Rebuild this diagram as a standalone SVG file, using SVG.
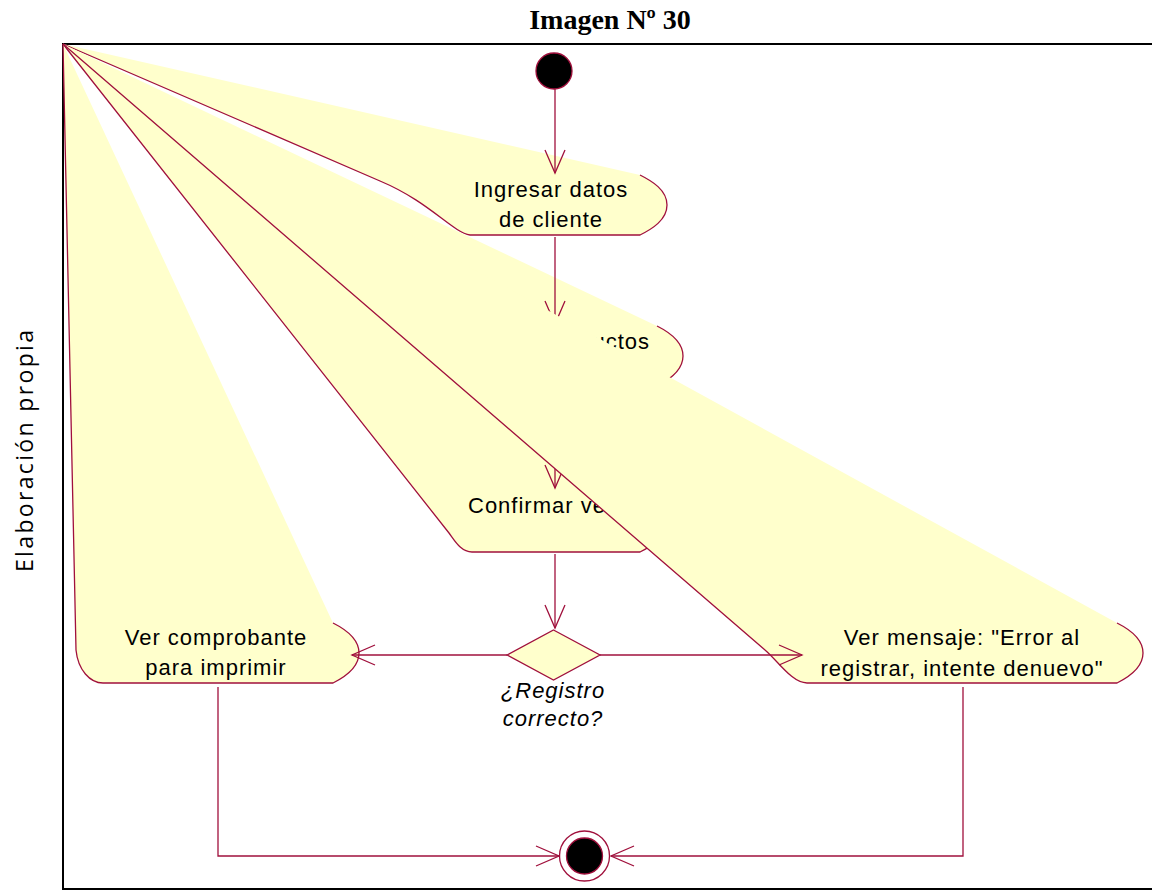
<svg xmlns="http://www.w3.org/2000/svg" width="1152" height="891" viewBox="0 0 1152 891">
  <style>
    .fill { fill: #FFFFCC; stroke: none; }
    .edge { fill: none; stroke: #A0103C; stroke-width: 1.3; }
    .lbl { font-family: "Liberation Sans", Arial, sans-serif; font-size: 22px; letter-spacing: 1px; fill: #000; }
    .mid { text-anchor: middle; }
    .guard { font-style: italic; }
    .wire { fill: none; stroke: #A0103C; stroke-width: 1.3; }
    .frame { fill: none; stroke: #000; stroke-width: 2; }
  </style>
  <defs>
    <!-- everything except the area covered by the error-message state -->
    <clipPath id="outside-error" clipPathUnits="userSpaceOnUse">
      <path clip-rule="evenodd" d="M0,0H1152V891H0Z M63,44 L1117,623 C1129,629 1143,638 1143,653 C1143,668 1129,677 1117,683 L807,683 C792,683 778,661 765,650 Z"/>
    </clipPath>
  </defs>

  <!-- page frame, title and side caption -->
  <g id="frame">
    <rect class="frame" x="63" y="44" width="1100" height="845"/>
    <text x="610" y="29" text-anchor="middle" font-family="'Liberation Serif', 'Times New Roman', serif" font-weight="bold" font-size="28">Imagen Nº 30</text>
    <text transform="translate(33,451) rotate(-90)" text-anchor="middle" font-family="'Open Sans', 'Liberation Sans', sans-serif" font-size="23" textLength="242" lengthAdjust="spacing">Elaboración propia</text>
  </g>

  <!-- activity states -->
  <g id="node-ingresar">
    <path class="fill" d="M63,44 L640,175 C652,181 667,190 667,205 C667,220 652,229 640,235 L470,235 C452,232 430,202 380,181 Z"/>
    <path class="edge" d="M640,175 C652,181 667,190 667,205 C667,220 652,229 640,235 L470,235 C452,232 430,202 380,181 L63,44"/>
    <text class="lbl mid" x="551" y="197">Ingresar datos</text>
    <text class="lbl mid" x="551" y="227">de cliente</text>
  </g>

  <g id="node-productos">
    <path class="fill" d="M63,44 L657,326 C669,332 683,341 683,356 C683,371 669,380 657,386 L453,386 C438,384 428,362 410,345 Z"/>
    <path class="edge" d="M657,326 C669,332 683,341 683,356 C683,371 669,380 657,386 L453,386 C438,384 428,362 410,345 L63,44"/>
    <text class="lbl" x="650" y="349" text-anchor="end">uctos</text>
  </g>

  <g id="node-confirmar">
    <path class="fill" d="M63,44 L640,490 C652,496 667,505 667,521 C667,537 652,546 640,552 L472,552 C461,552 455,541 449,533 Z"/>
    <path class="edge" d="M640,490 C652,496 667,505 667,521 C667,537 652,546 640,552 L472,552 C461,552 455,541 449,533 L63,44"/>
    <text class="lbl" x="468" y="513">Confirmar ve</text>
  </g>

  <g id="node-comprobante">
    <path class="fill" d="M63,44 L333,623 C345,629 359,638 359,653 C359,668 345,677 333,683 L103,683 C90,683 78,670 76,650 Z"/>
    <path class="edge" d="M333,623 C345,629 359,638 359,653 C359,668 345,677 333,683 L103,683 C90,683 78,670 76,650 L63,44"/>
    <text class="lbl mid" x="216" y="645">Ver comprobante</text>
    <text class="lbl mid" x="216" y="675">para imprimir</text>
  </g>

  <g id="node-error">
    <path class="fill" d="M63,44 L1117,623 C1129,629 1143,638 1143,653 C1143,668 1129,677 1117,683 L807,683 C792,683 778,661 765,650 Z"/>
    <path class="edge" d="M1117,623 C1129,629 1143,638 1143,653 C1143,668 1129,677 1117,683 L807,683 C792,683 778,661 765,650 L63,44"/>
    <text class="lbl mid" x="962" y="645">Ver mensaje: "Error al</text>
    <text class="lbl mid" x="962" y="676">registrar, intente denuevo"</text>
  </g>

  <!-- decision -->
  <g id="node-decision">
    <polygon class="fill" points="553.5,630 600,655 553.5,680 507,655"/>
    <polygon class="edge" points="553.5,630 600,655 553.5,680 507,655"/>
    <text class="lbl mid guard" x="553" y="698">¿Registro</text>
    <text class="lbl mid guard" x="553" y="726">correcto?</text>
  </g>

  <!-- initial and final states -->
  <g id="node-start">
    <circle cx="554" cy="71" r="18" fill="#000" stroke="#A0103C" stroke-width="1.3"/>
  </g>
  <g id="node-end">
    <circle cx="584.5" cy="856" r="25" fill="#fff" stroke="#A0103C" stroke-width="1.3"/>
    <circle cx="584.5" cy="856" r="18" fill="#000" stroke="#A0103C" stroke-width="1.3"/>
  </g>

  <!-- transitions -->
  <g id="connectors">
    <g id="t-start-ingresar">
      <path class="wire" d="M555,89 V173"/>
      <polyline class="wire" points="545,150 555,173 565,150"/>
    </g>
    <g id="t-ingresar-productos" clip-path="url(#outside-error)">
      <path class="wire" d="M555,237 V324"/>
      <polyline class="wire" points="545,301 555,324 565,301"/>
    </g>
    <g id="t-productos-confirmar" clip-path="url(#outside-error)">
      <path class="wire" d="M555,388 V488"/>
      <polyline class="wire" points="545,465 555,488 565,465"/>
    </g>
    <g id="t-confirmar-decision">
      <path class="wire" d="M555,554 V628"/>
      <polyline class="wire" points="545,605 555,628 565,605"/>
    </g>
    <g id="t-decision-comprobante">
      <path class="wire" d="M507,655 H352"/>
      <polyline class="wire" points="375,645 352,655 375,665"/>
    </g>
    <g id="t-decision-error">
      <path class="wire" d="M600,655 H802"/>
      <polyline class="wire" points="779,645 802,655 779,665"/>
    </g>
    <g id="t-comprobante-end">
      <path class="wire" d="M218,687 V856 H559"/>
      <polyline class="wire" points="536,846 559,856 536,866"/>
    </g>
    <g id="t-error-end">
      <path class="wire" d="M963,687 V856 H611"/>
      <polyline class="wire" points="634,846 611,856 634,866"/>
    </g>
  </g>
</svg>
